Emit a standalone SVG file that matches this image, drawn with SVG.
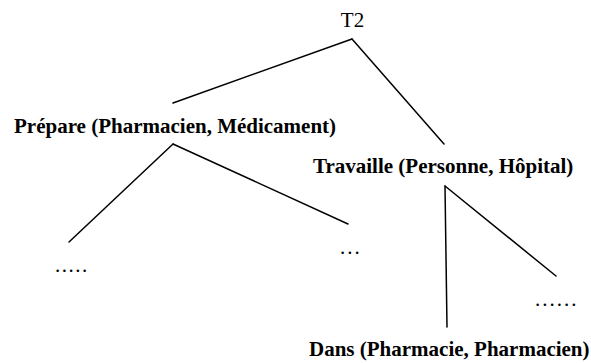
<svg xmlns="http://www.w3.org/2000/svg" width="591" height="363" viewBox="0 0 591 363">
<style>
.t{font-family:"Liberation Serif","Times New Roman",serif;font-size:21px;font-weight:bold;fill:#000}
.d{font-weight:normal}
.c line{stroke:#000;stroke-width:1.5;fill:none;stroke-linecap:round}
</style>
<rect width="591" height="363" fill="#fff"/>
<g id="connectors" class="c">
<line x1="352" y1="39" x2="173" y2="103"/>
<line x1="352" y1="39" x2="444" y2="144"/>
<line x1="173" y1="144" x2="69" y2="242"/>
<line x1="173" y1="144" x2="348" y2="224"/>
<line x1="445" y1="186" x2="447" y2="327"/>
<line x1="445" y1="186" x2="556" y2="276"/>
</g>
<g id="n-t2"><text class="t d" x="352.5" y="27" text-anchor="middle">T2</text></g>
<g id="n-prepare"><text class="t" x="14" y="133">Prépare (Pharmacien, Médicament)</text></g>
<g id="n-travaille"><text class="t" x="313" y="173">Travaille (Personne, Hôpital)</text></g>
<g id="n-dans"><text class="t" x="309" y="356">Dans (Pharmacie, Pharmacien)</text></g>
<g id="n-dots1"><text class="t d" x="55" y="272" letter-spacing="1.5">.....</text></g>
<g id="n-dots2"><text class="t d" x="340" y="254" letter-spacing="2">...</text></g>
<g id="n-dots3"><text class="t d" x="535" y="306" letter-spacing="2">......</text></g>
</svg>
